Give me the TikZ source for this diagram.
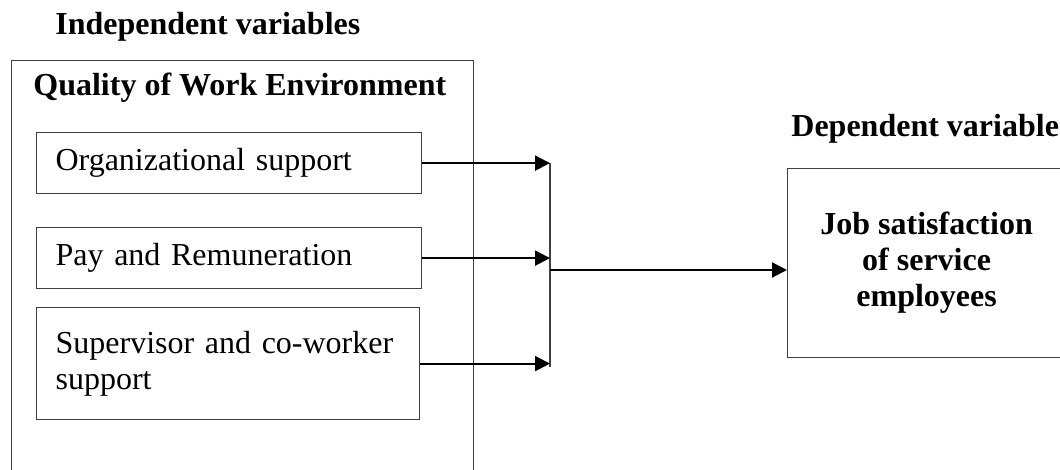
\documentclass[tikz,border=0pt]{standalone}
\usepackage{fontspec}
\setmainfont{Liberation Serif}
\usetikzlibrary{arrows.meta, positioning}

\tikzset{
    frame/.style={draw=black!75, line width=0.6pt, inner xsep=9.5pt, align=left, anchor=north west, font=\fontsize{16}{18}\selectfont},
    heading/.style={anchor=base west, inner sep=0pt, font=\fontsize{16}{18}\selectfont\bfseries},
    link/.style={line width=1.1pt, -{Triangle[length=7.5pt, width=7.5pt]}},
    bar/.style={draw=black!75, line width=0.6pt}
}

\begin{document}
\begin{tikzpicture}[x=0.5pt, y=-0.5pt]
        \useasboundingbox (0, 0) rectangle (1060, 470);

        \node (indep) at (55, 35)[heading] {Independent variables};

        \node (env) at (11, 60)[frame, minimum width=231pt, minimum height=220pt] {};

        \node (qwe) at (33, 96)[heading] {Quality of Work Environment};

        \node (org) at (36, 132)[frame, text width=173.5pt, minimum height=30.5pt] {Organizational support};

        \node (pay) at (36, 227)[frame, text width=173.5pt, minimum height=30.5pt] {Pay and Remuneration};

        \node (sup) at (36, 307)[frame, text width=172.5pt, minimum height=56pt] {Supervisor and co-worker\\support};

        \node (depvar) at (791, 137)[heading] {Dependent variable};

        \node (job) at (787, 168)[frame, align=center, minimum width=139pt, minimum height=94.5pt, font=\fontsize{16}{18}\selectfont\bfseries] {Job satisfaction\\of service\\employees};

        \coordinate (bartop) at (550, 163);
        \coordinate (barbot) at (550, 367);
        \coordinate (join) at (550, 270);

        \draw[bar] (bartop) -- (barbot);

        \draw[link] (org.east) -- (org.east -| bartop);
        \draw[link] (pay.east) -- (pay.east -| bartop);
        \draw[link] (sup.east) -- (sup.east -| bartop);

        \draw[link] (join) -- (join -| job.west);
    \end{tikzpicture}
\end{document}
